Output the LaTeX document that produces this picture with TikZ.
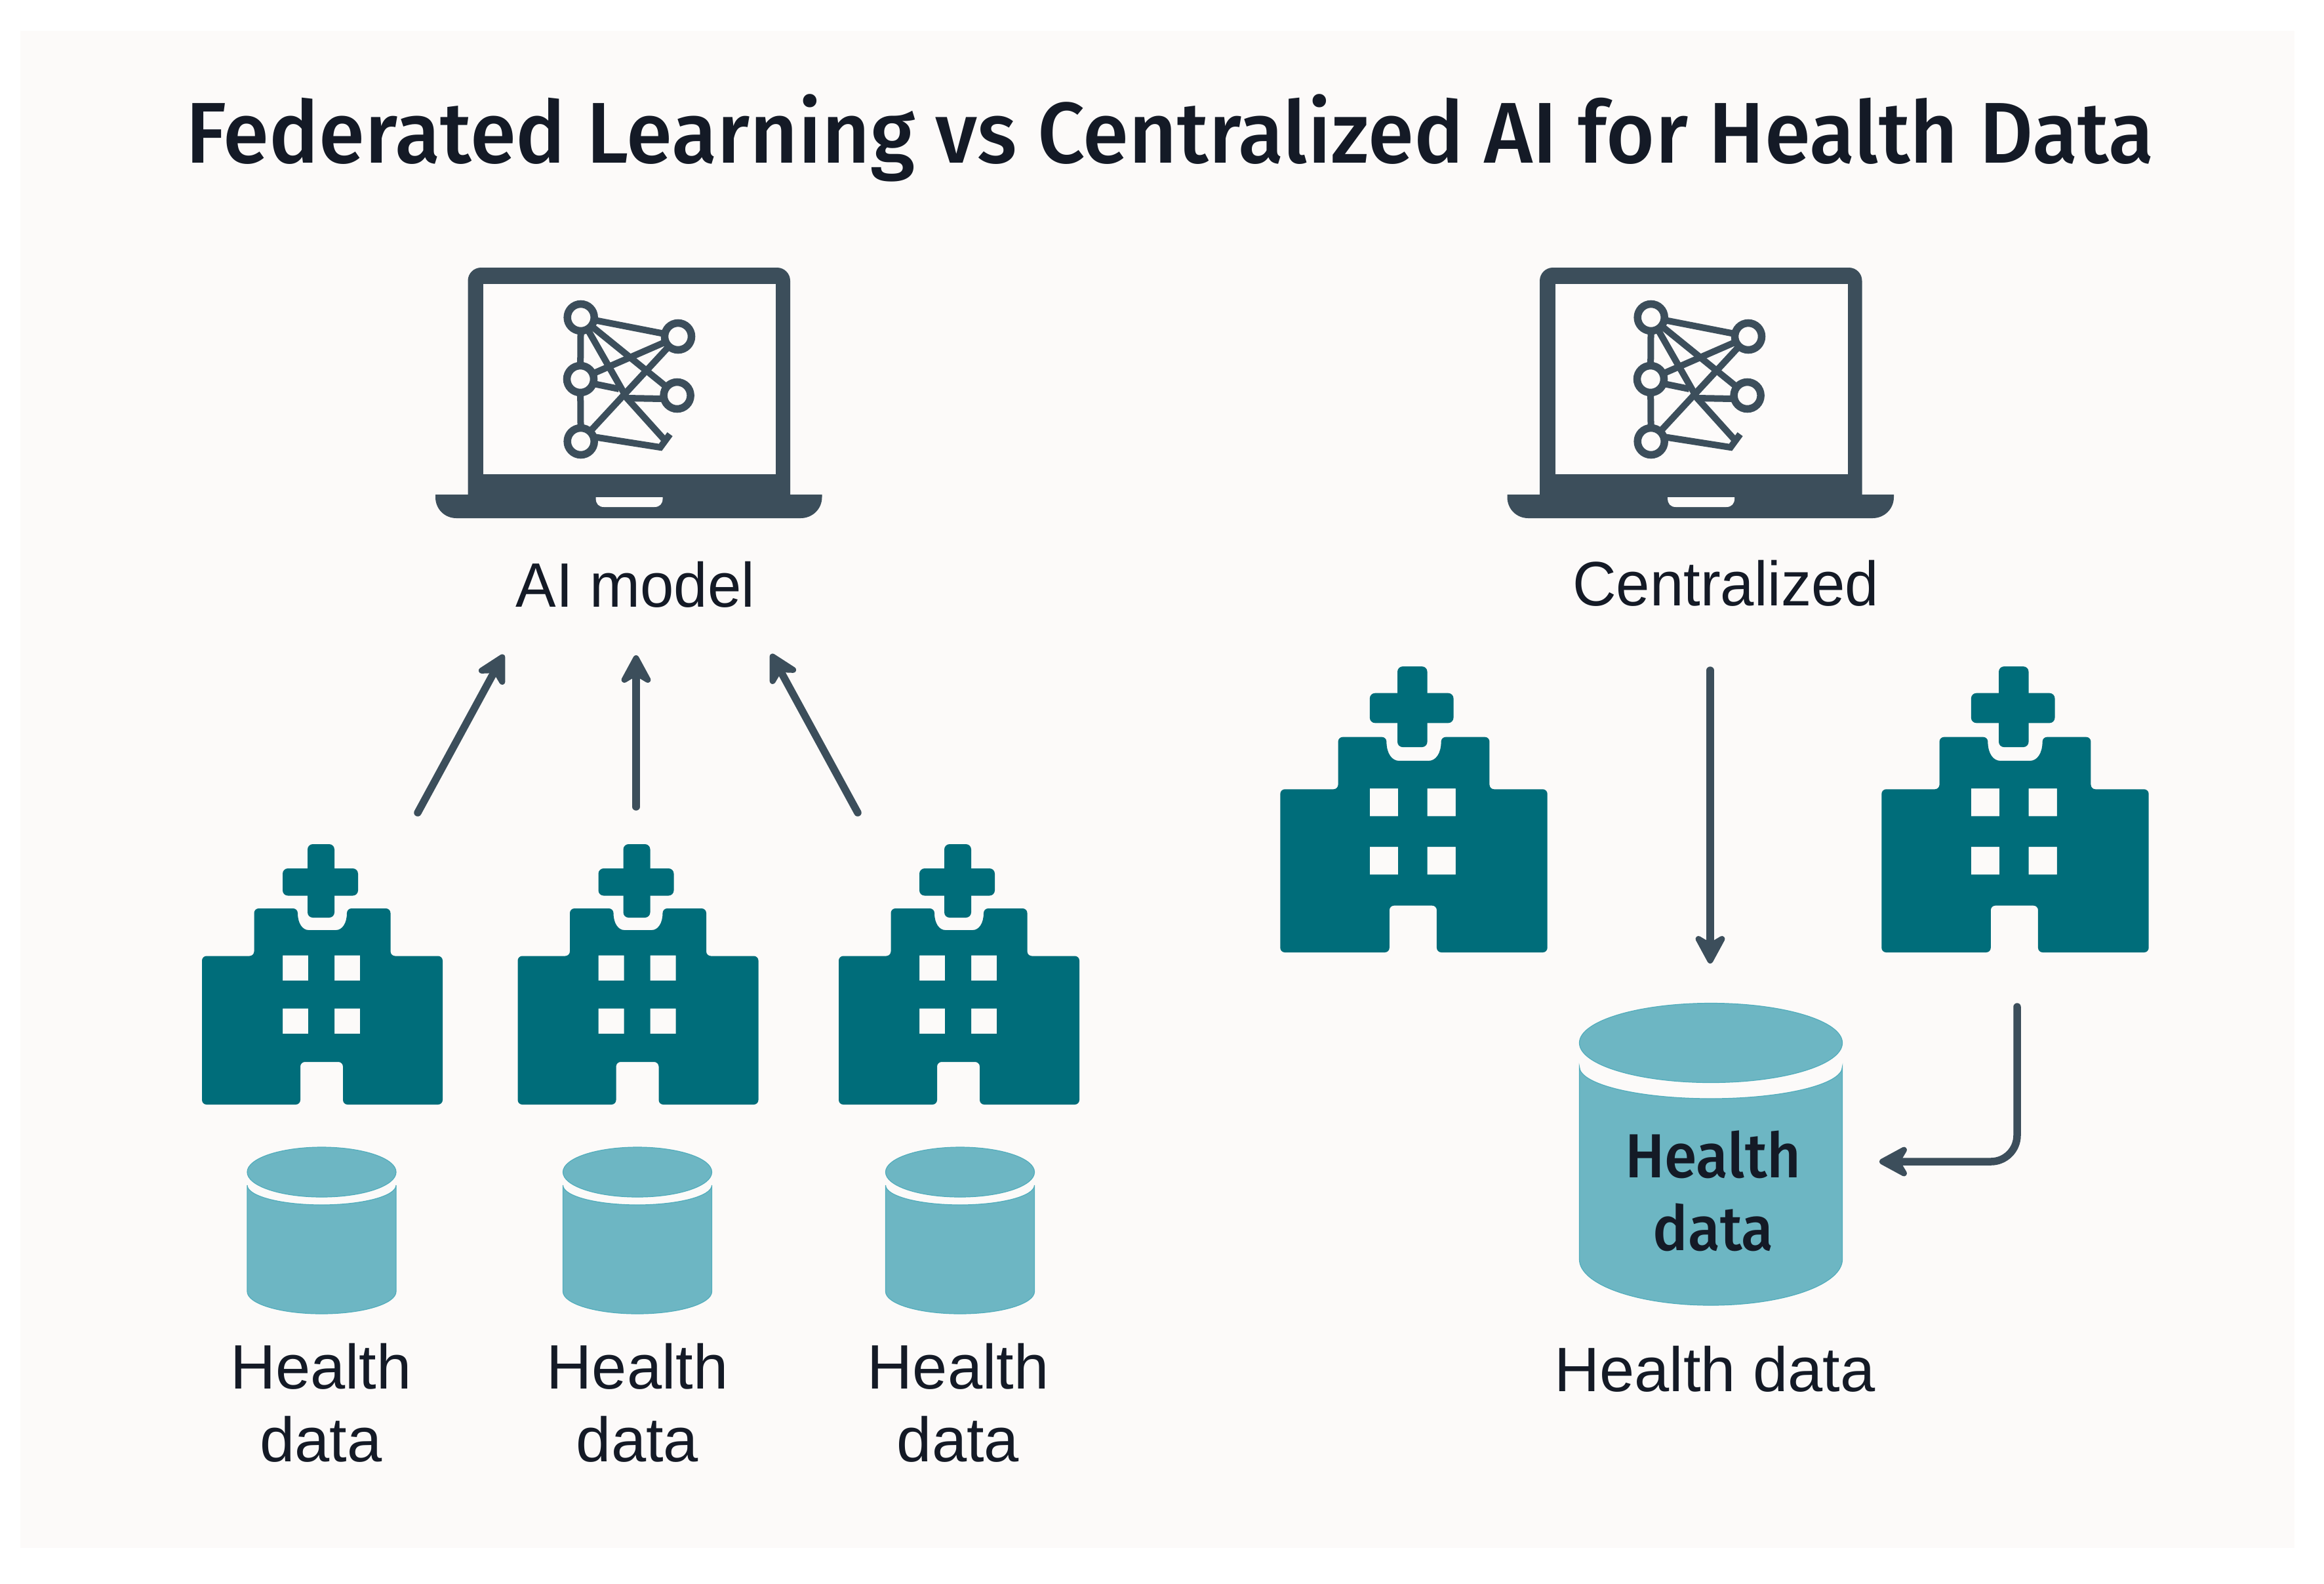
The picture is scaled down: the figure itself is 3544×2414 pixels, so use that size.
\documentclass[tikz,border=0pt]{standalone}
\usepackage{fontspec}
\usetikzlibrary{arrows.meta}
\setmainfont{Liberation Sans}
\newfontfamily\narrowfont[FakeStretch=0.965]{Liberation Sans}
\newfontfamily\titlefont[FakeStretch=0.966]{Fira Sans Medium}
\newfontfamily\cylfont[FakeStretch=0.945]{Fira Sans Medium}
\definecolor{pagebg}{HTML}{FCFAF9}
\definecolor{screenbg}{HTML}{FDFBFA}
\definecolor{slate}{HTML}{3C4E5B}
\definecolor{tealdark}{HTML}{006D7A}
\definecolor{cylfill}{HTML}{6DB6C3}
\definecolor{cyledge}{HTML}{52ADBC}
\definecolor{ink}{HTML}{141A26}
\tikzset{
  flowarrow/.style={draw=slate,line width=0.115cm,line cap=round,
    -{Stealth[length=0.54cm,width=0.58cm,inset=0.17cm,round,line width=0.09cm]}},
  netline/.style={draw=slate,line width=0.10cm},
  netnode/.style={draw=slate,fill=screenbg,line width=0.115cm},
  label/.style={inner sep=0pt,anchor=base,text=ink,align=center,
    font={\fontsize{27.2}{31.5}\selectfont}},
  narrowlabel/.style={label,font={\fontsize{27.2}{31.5}\selectfont\narrowfont}},
  cyllabel/.style={inner sep=0pt,anchor=base,text=ink,align=center,
    font={\fontsize{27}{31.3}\selectfont\cylfont}},
  titletext/.style={inner sep=0pt,anchor=base,text=ink,
    font={\fontsize{37.4}{40}\selectfont\titlefont}}
}
% laptop: #1 = x offset of body, #2 = x offset of the network
\newcommand{\laptop}[2]{%
  \begin{scope}[xshift=#1*0.01cm]
    \fill[slate,rounded corners=0.2cm] (713.5,775) -- (713.5,408) -- (1205,408) -- (1205,775) -- cycle;
    \fill[slate] (664,754) -- (1253.5,754) -- (1253.5,758)
       .. controls +(0,18) and +(18,0) .. (1221,790) -- (696,790)
       .. controls +(-18,0) and +(0,18) .. (664,758) -- cycle;
    \fill[screenbg] (737,433) rectangle (1183,723);
    \fill[screenbg] (908.6,758) -- (1010.6,758) -- (1010.6,760)
       .. controls +(0,8) and +(8,0) .. (998,773) -- (921,773)
       .. controls +(-8,0) and +(0,8) .. (908.6,760) -- cycle;
  \end{scope}
  \begin{scope}[xshift=#2*0.01cm]
    \coordinate (A) at (885.7,484); \coordinate (B) at (1034,513);
    \coordinate (C) at (885,578);   \coordinate (D) at (1032.6,603);
    \coordinate (E) at (885.7,673); \coordinate (J) at (956,607);
    \coordinate (P) at (1015.5,673);\coordinate (Q) at (1007,682);
    \coordinate (T) at (1021.6,662);
    \draw[netline] (A) -- (B);
    \draw[netline] (A) -- (C);
    \draw[netline] (C) -- (E);
    \draw[netline] (A) -- (D);
    \draw[netline] (C) -- (B);
    \draw[netline] (A) -- (J) -- (P);
    \draw[netline] (B) -- (E);
    \draw[netline] (905,585) -- (944,593);
    \draw[netline] (J) -- (1010,608);
    \draw[netline] (905,666) -- (Q) -- (T);
    \foreach \n in {A,B,C,D,E} \draw[netnode] (\n) circle (0.205cm);
  \end{scope}}
% hospital: centre x, bottom y, x scale, y scale
\newcommand{\hospital}[4]{%
  \begin{scope}[shift={(#1,#2)},xscale=#3,yscale=#4]
    \fill[tealdark,even odd rule,rounded corners=0.07cm]
      (-183.5,0) -- (-183.5,-226.5) -- (-104,-226.5) -- (-104,-299) -- (-37.5,-299)
      .. controls (-37.5,-276) and (-30,-266) .. (-14,-266) -- (14,-266)
      .. controls (30,-266) and (37.5,-276) .. (37.5,-299)
      -- (104,-299) -- (104,-226.5) -- (183.5,-226.5) -- (183.5,0) -- (31.5,0)
      -- (31.5,-65) -- (-33.5,-65) -- (-33.5,0) -- cycle
      [sharp corners]
      (-60.5,-227.5) rectangle (-21.5,-189)
      (18.5,-227.5) rectangle (57.5,-189)
      (-60.5,-146.5) rectangle (-21.5,-108)
      (18.5,-146.5) rectangle (57.5,-108);
    \fill[tealdark,rounded corners=0.08cm] (-22.5,-397) rectangle (18.5,-285);
    \fill[tealdark,rounded corners=0.08cm] (-60.5,-360) rectangle (54.5,-318.5);
  \end{scope}}
% cylinder: cx, rx, ellipse centre y, ellipse ry, side top y, top drop, side bottom y, bottom drop
\newcommand{\cylinder}[8]{%
  \pgfmathsetmacro{\kx}{0.5523*#2}
  \pgfmathsetmacro{\kt}{0.5523*#6}
  \pgfmathsetmacro{\kb}{0.5523*#8}
  \pgfmathsetmacro{\ya}{#5+#6}
  \pgfmathsetmacro{\yb}{#7+#8}
  \pgfmathsetmacro{\xl}{#1-#2}
  \pgfmathsetmacro{\xr}{#1+#2}
  \filldraw[fill=cylfill,draw=cyledge,line width=0.012cm]
    (\xl,#5) .. controls +(0,\kt) and +(-\kx,0) .. (#1,\ya)
    .. controls +(\kx,0) and +(0,\kt) .. (\xr,#5)
    -- (\xr,#7) .. controls +(0,\kb) and +(\kx,0) .. (#1,\yb)
    .. controls +(-\kx,0) and +(0,\kb) .. (\xl,#7) -- cycle;
  \filldraw[fill=cylfill,draw=cyledge,line width=0.012cm] (#1,#3) ellipse [x radius=#2,y radius=#4];}
\begin{document}
\begin{tikzpicture}[x=0.01cm,y=-0.01cm]
  \useasboundingbox (0,0) rectangle (3544,2414);
  \fill[white] (0,0) rectangle (3544,2414);
  \fill[pagebg] (31,47) rectangle (3499,2360);
  \node[titletext] (title) at (1784,248) {Federated Learning vs Centralized AI for Health Data};

  \laptop{0}{0}
  \laptop{1634.5}{1632}
  \node[narrowlabel] (modellabel) at (969,925) {AI model};
  \node[narrowlabel] (centrallabel) at (2631.6,923) {Centralized};

  \hospital{491.5}{1684}{1}{1}
  \hospital{973}{1684}{1}{1}
  \hospital{1462.5}{1684}{1}{1}
  \hospital{2156}{1452}{1.11}{1.098}
  \hospital{3073}{1452}{1.11}{1.098}

  \cylinder{490.5}{113.5}{1787}{38}{1807}{30}{1969}{34}
  \cylinder{972}{113.5}{1787}{38}{1807}{30}{1969}{34}
  \cylinder{1464}{113.5}{1787}{38}{1807}{30}{1969}{34}
  \cylinder{2609}{200.5}{1590}{60.5}{1626.5}{48.5}{1920}{70}

  \node[label] (hd1) at (489.5,2228) {Health\\data};
  \node[label] (hd2) at (972,2228) {Health\\data};
  \node[label] (hd3) at (1461,2228) {Health\\data};
  \node[cyllabel] (hd4) at (2612.5,1906) {Health\\data};
  \node[label] (hd5) at (2615,2121) {Health data};

  \coordinate (h1out) at (637,1239);
  \coordinate (h2out) at (970,1230);
  \coordinate (h3out) at (1308,1239);
  \coordinate (m1in) at (768,998);
  \coordinate (m2in) at (970,999);
  \coordinate (m3in) at (1176,997);
  \coordinate (cout) at (2608,1022);
  \coordinate (dbin) at (2608,1469);
  \coordinate (h5out) at (3076,1535);
  \coordinate (dbside) at (2866,1771);
  \draw[flowarrow] (h1out) -- (m1in);
  \draw[flowarrow] (h2out) -- (m2in);
  \draw[flowarrow] (h3out) -- (m3in);
  \draw[flowarrow] (cout) -- (dbin);
  \draw[flowarrow,rounded corners=0.4cm] (h5out) |- (dbside);
\end{tikzpicture}
\end{document}
